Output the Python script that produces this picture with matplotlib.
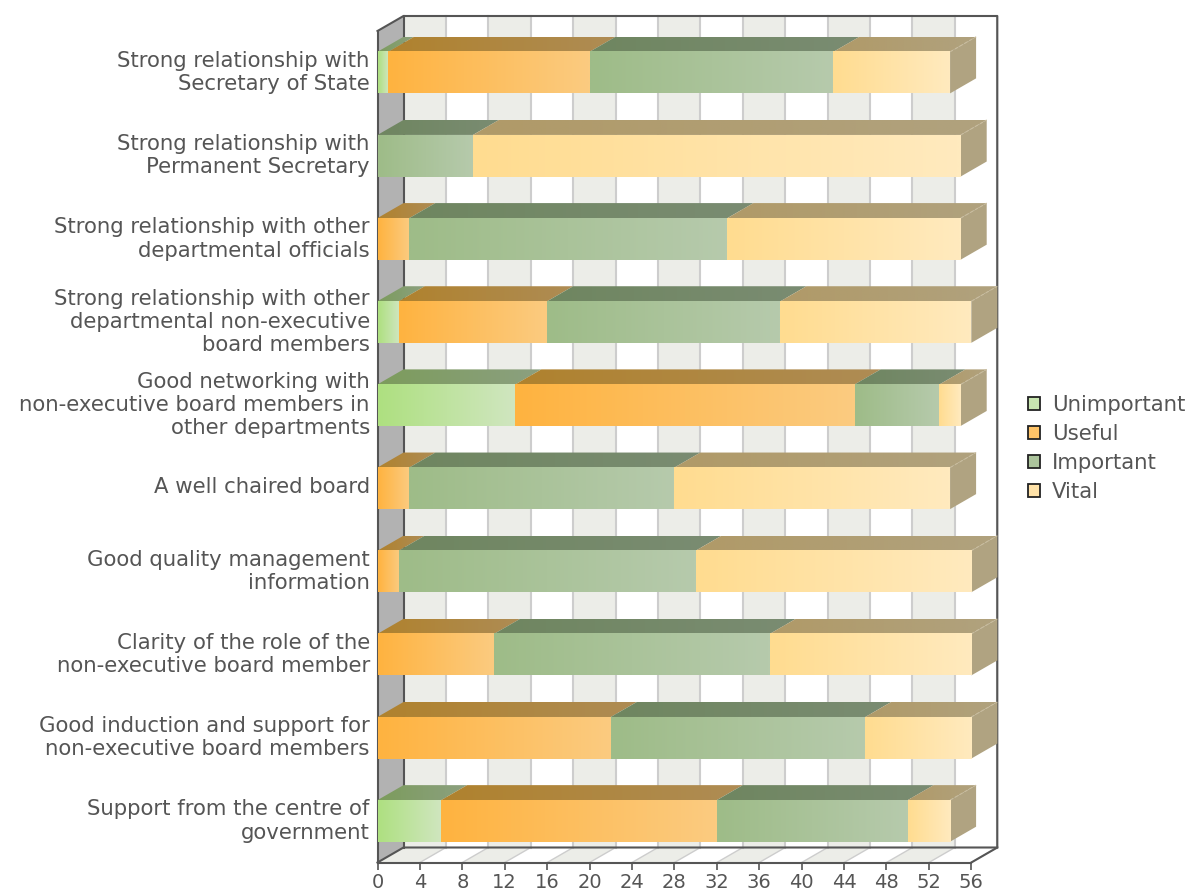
import numpy as np
import matplotlib
matplotlib.use("Agg")
import matplotlib.pyplot as plt
from matplotlib.colors import to_rgb
from matplotlib.patches import Polygon, Patch
from matplotlib.transforms import ScaledTranslation

categories = [
    "Strong relationship with\nSecretary of State",
    "Strong relationship with\nPermanent Secretary",
    "Strong relationship with other\ndepartmental officials",
    "Strong relationship with other\ndepartmental non-executive\nboard members",
    "Good networking with\nnon-executive board members in\nother departments",
    "A well chaired board",
    "Good quality management\ninformation",
    "Clarity of the role of the\nnon-executive board member",
    "Good induction and support for\nnon-executive board members",
    "Support from the centre of\ngovernment",
]
series_names = ["Unimportant", "Useful", "Important", "Vital"]
unimportant = [1, 0, 0, 2, 13, 0, 0, 0, 0, 6]
useful = [19, 0, 3, 14, 32, 3, 2, 11, 22, 26]
important = [23, 9, 30, 22, 8, 25, 28, 26, 24, 18]
vital = [11, 46, 22, 18, 2, 26, 26, 19, 10, 4]
series = [unimportant, useful, important, vital]
x_ticks = list(range(0, 57, 4))

grad_start = ["#AEE080", "#FFB340", "#9EBC88", "#FFDC90"]
grad_end = ["#D0E6C0", "#FBCB80", "#B6CAAC", "#FFEABE"]
top_start = ["#7C9C5C", "#B0822E", "#6F8660", "#B09A68"]
top_end = ["#8CA080", "#AE8C54", "#7A8C72", "#B0A27E"]
legend_colors = ["#C8E6B0", "#FFC468", "#ACC49C", "#FFE2A8"]
side_color = "#B0A381"
wall_color = "#B2B2B2"
band_color = "#ECEDE8"
grid_color = "#CDCDCD"
edge_color = "#555555"
text_color = "#555555"

W, H = 1188, 890
fig = plt.figure(figsize=(W / 100, H / 100), dpi=100)
plt.rcParams["font.family"] = "DejaVu Sans"
L, R, T, B = 377.5, 971.3, 31, 862.5
ax = fig.add_axes([L / W, 1 - B / H, (R - L) / W, (B - T) / H])
ax.patch.set_visible(False)

XMAX, YMIN, YMAX = 56, -0.5, 9.5
DX = 26 * XMAX / (R - L)         # depth offset, x units
DY = 15 * (YMAX - YMIN) / (B - T)  # depth offset, y units
BAR_H = 0.5


def poly(points, z, **kw):
    ax.add_patch(Polygon(points, closed=True, clip_on=False, zorder=z, **kw))


# back wall bands and floor bands
for i, x0 in enumerate(x_ticks[:-1]):
    x1 = x_ticks[i + 1]
    if i % 2 == 0:
        poly([(x0 + DX, YMIN - DY), (x1 + DX, YMIN - DY), (x1 + DX, YMAX - DY), (x0 + DX, YMAX - DY)],
             1, fc=band_color, ec="none")
        poly([(x0, YMAX), (x1, YMAX), (x1 + DX, YMAX - DY), (x0 + DX, YMAX - DY)],
             1, fc=band_color, ec="none")
for x in x_ticks[1:]:
    ax.plot([x + DX, x + DX], [YMIN - DY, YMAX - DY], color=grid_color, lw=1.5, clip_on=False, zorder=1.5)
    ax.plot([x, x + DX], [YMAX, YMAX - DY], color=grid_color, lw=1.0, clip_on=False, zorder=1.5)

# left wall
poly([(0, YMIN), (DX, YMIN - DY), (DX, YMAX - DY), (0, YMAX)], 2, fc=wall_color, ec="none")

# frame
frame = [
    ([0, DX, XMAX + DX, XMAX + DX, XMAX], [YMIN, YMIN - DY, YMIN - DY, YMAX - DY, YMAX]),
    ([0, 0], [YMIN, YMAX]),
    ([DX, DX], [YMIN - DY, YMAX - DY]),
    ([0, DX, XMAX + DX], [YMAX, YMAX - DY, YMAX - DY]),
]
for xs, ys in frame:
    ax.plot(xs, ys, color=edge_color, lw=1.5, clip_on=False, zorder=2.5,
            solid_capstyle="projecting")


def gradient(c0, c1, extent, z, skew=None):
    a, b = np.array(to_rgb(c0)), np.array(to_rgb(c1))
    t = np.linspace(0, 1, 64)[None, :, None]
    img = a + (b - a) * t
    im = ax.imshow(img, extent=extent, aspect="auto", origin="upper",
                   interpolation="bilinear", zorder=z)
    if skew is not None:
        patch = Polygon(skew, closed=True, transform=ax.transData, fc="none", ec="none",
                        clip_on=False)
        ax.add_patch(patch)
        im.set_clip_path(patch)
        im.set_clip_box(fig.bbox)
    else:
        im.set_clip_on(False)


# stacked 3-D bars
for i in range(len(categories)):
    y0, y1 = i - BAR_H / 2, i + BAR_H / 2
    left = 0
    for s, values in enumerate(series):
        v = values[i]
        if v == 0:
            continue
        right = left + v
        top = [(left, y0), (right, y0), (right + DX, y0 - DY), (left + DX, y0 - DY)]
        gradient(top_start[s], top_end[s], (left, right + DX, y0, y0 - DY), 3, skew=top)
        gradient(grad_start[s], grad_end[s], (left, right, y1, y0), 4)
        left = right
    poly([(left, y0), (left + DX, y0 - DY), (left + DX, y1 - DY), (left, y1)], 3.5, fc=side_color, ec="none")
    ax.plot([left, left + DX], [y0, y0 - DY], color="#C8BC9E", lw=0.8, ls=(0, (3, 2)), zorder=3.6, clip_on=False)

ax.set_xlim(0, XMAX)
ax.set_ylim(YMAX, YMIN)

for name, sp in ax.spines.items():
    sp.set_visible(False)
ax.plot([0, XMAX], [YMAX, YMAX], color=edge_color, lw=1.5, clip_on=False, zorder=2.6)

ax.set_xticks(x_ticks)
ax.set_xticklabels([str(x) for x in x_ticks], fontsize=14, color=text_color)
ax.tick_params(axis="x", length=5, width=1.2, color=edge_color, pad=2.6)
ax.set_yticks(range(len(categories)))
ax.set_yticklabels(categories, fontsize=15.3, color=text_color, linespacing=1.2,
                   ha="right", multialignment="right")
ax.tick_params(axis="y", length=0, pad=5.5)
nudge = ScaledTranslation(0, 3.5 / 100, fig.dpi_scale_trans)
for lab in ax.get_yticklabels():
    lab.set_transform(lab.get_transform() + nudge)

handles = [Patch(fc=c, ec="#222222", lw=1.3, label=n) for c, n in zip(legend_colors, series_names)]
fig.legend(handles=handles, loc="center left", bbox_to_anchor=(1028 / W, 1 - 448.5 / H),
           frameon=False, fontsize=15.3, labelcolor=text_color, handlelength=0.58, handleheight=0.58,
           handletextpad=0.55, labelspacing=0.42, borderpad=0, borderaxespad=0)

fig.savefig("out.png", dpi=100, facecolor="white")
